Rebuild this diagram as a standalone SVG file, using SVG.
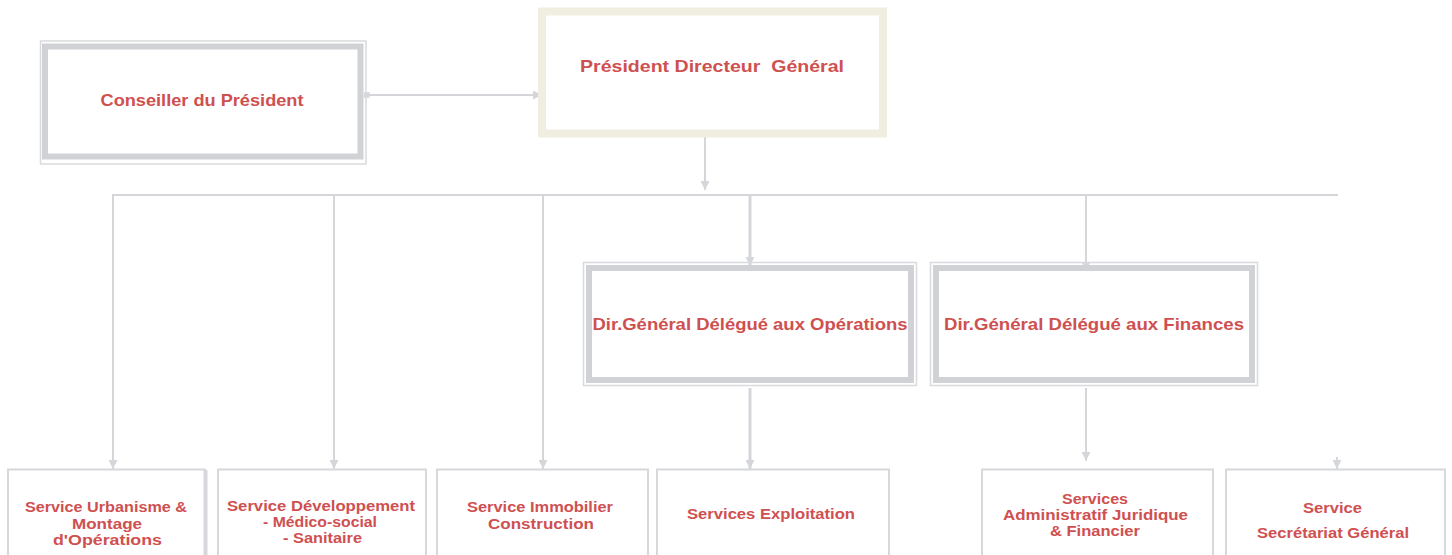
<svg xmlns="http://www.w3.org/2000/svg" width="1452" height="555" viewBox="0 0 1452 555">
<style>
.t{font-family:"Liberation Sans",Arial,sans-serif;font-weight:bold;fill:#cf5050;text-anchor:middle}
.t15{font-size:16.5px}
.t13{font-size:14.5px}
.thin{fill:none;stroke:#d8dadd;stroke-width:1.5}
.thick{fill:none;stroke:#d0d2d5;stroke-width:6}
.beige{fill:none;stroke:#f0ede1;stroke-width:8}
.sub{fill:#fff;stroke:#d6d8db;stroke-width:2}
.c{fill:none;stroke:#d4d6d9;stroke-width:2}
</style>
<defs>
<marker id="ah" viewBox="0 0 10 10" refX="10" refY="5" markerWidth="9" markerHeight="9" markerUnits="userSpaceOnUse" orient="auto">
<path d="M0,0 L10,5 L0,10 z" fill="#d4d6d9"/>
</marker>
<marker id="as" viewBox="0 0 10 10" refX="0" refY="5" markerWidth="7" markerHeight="7" markerUnits="userSpaceOnUse" orient="auto">
<rect x="0" y="1" width="8" height="8" fill="#d4d6d9"/>
</marker>
</defs>
<rect width="1452" height="555" fill="#fff"/>
<g id="connectors">
<line class="c" x1="364" y1="95" x2="542" y2="95" marker-start="url(#as)" marker-end="url(#ah)"/>
<line class="c" x1="705" y1="137" x2="705" y2="190" marker-end="url(#ah)"/>
<line class="c" x1="112" y1="195" x2="1338" y2="195"/>
<line class="c" x1="113" y1="195" x2="113" y2="469" marker-end="url(#ah)"/>
<line class="c" x1="334" y1="195" x2="334" y2="469" marker-end="url(#ah)"/>
<line class="c" x1="543" y1="195" x2="543" y2="469" marker-end="url(#ah)"/>
<line class="c" style="stroke-width:3" x1="750" y1="195" x2="750" y2="266" marker-end="url(#ah)"/>
<line class="c" x1="1086" y1="195" x2="1086" y2="271" marker-end="url(#ah)"/>
<line class="c" style="stroke-width:3" x1="750" y1="388" x2="750" y2="469" marker-end="url(#ah)"/>
<line class="c" x1="1086" y1="388" x2="1086" y2="461" marker-end="url(#ah)"/>
<line class="c" x1="1337" y1="457" x2="1337" y2="469" marker-end="url(#ah)"/>
</g>
<g id="conseiller">
<rect class="thin" x="40.5" y="41" width="325.5" height="123"/>
<rect class="thick" x="45" y="46.5" width="315.5" height="110"/>
<text class="t t15" x="202" y="106" textLength="203" lengthAdjust="spacingAndGlyphs">Conseiller du Président</text>
</g>
<g id="pdg">
<rect class="beige" x="542" y="11.5" width="341" height="122"/>
<text class="t t15" x="712" y="72" textLength="264" lengthAdjust="spacingAndGlyphs" xml:space="preserve">Président Directeur  Général</text>
</g>
<g id="dir-ops">
<rect class="thin" x="583.5" y="262.5" width="333" height="123"/>
<rect class="thick" x="589" y="268" width="322" height="112"/>
<text class="t t15" x="750" y="330" textLength="315" lengthAdjust="spacingAndGlyphs">Dir.Général Délégué aux Opérations</text>
</g>
<g id="dir-fin">
<rect class="thin" x="930.5" y="262.5" width="327" height="123"/>
<rect class="thick" x="936" y="268" width="316" height="112"/>
<text class="t t15" x="1094" y="330" textLength="300" lengthAdjust="spacingAndGlyphs">Dir.Général Délégué aux Finances</text>
</g>
<g id="urbanisme">
<rect class="sub" x="8" y="469.5" width="197" height="100"/>
<line x1="205.5" y1="470" x2="205.5" y2="555" stroke="#d6d8db" stroke-width="4"/>
<text class="t t13" x="106" y="512" textLength="162" lengthAdjust="spacingAndGlyphs">Service Urbanisme &amp;</text>
<text class="t t13" x="107" y="529" textLength="70" lengthAdjust="spacingAndGlyphs">Montage</text>
<text class="t t13" x="107.5" y="545" textLength="109" lengthAdjust="spacingAndGlyphs">d'Opérations</text>
</g>
<g id="developpement">
<rect class="sub" x="218" y="469.5" width="208" height="100"/>
<text class="t t13" x="321" y="511" textLength="188" lengthAdjust="spacingAndGlyphs">Service Développement</text>
<text class="t t13" x="320" y="527" textLength="114" lengthAdjust="spacingAndGlyphs">- Médico-social</text>
<text class="t t13" x="322.5" y="543" textLength="79" lengthAdjust="spacingAndGlyphs">- Sanitaire</text>
</g>
<g id="immobilier">
<rect class="sub" x="437" y="469.5" width="211" height="100"/>
<text class="t t13" x="540" y="512" textLength="146" lengthAdjust="spacingAndGlyphs">Service Immobilier</text>
<text class="t t13" x="541" y="529" textLength="106" lengthAdjust="spacingAndGlyphs">Construction</text>
</g>
<g id="exploitation">
<rect class="sub" x="657" y="469.5" width="232" height="100"/>
<text class="t t13" x="771" y="519" textLength="168" lengthAdjust="spacingAndGlyphs">Services Exploitation</text>
</g>
<g id="administratif">
<rect class="sub" x="982" y="469.5" width="231" height="100"/>
<text class="t t13" x="1095" y="504" textLength="66" lengthAdjust="spacingAndGlyphs">Services</text>
<text class="t t13" x="1095.5" y="520" textLength="185" lengthAdjust="spacingAndGlyphs">Administratif Juridique</text>
<text class="t t13" x="1095" y="536" textLength="90" lengthAdjust="spacingAndGlyphs">&amp; Financier</text>
</g>
<g id="secretariat">
<rect class="sub" x="1226" y="469.5" width="219" height="100"/>
<text class="t t13" x="1332.5" y="513" textLength="59" lengthAdjust="spacingAndGlyphs">Service</text>
<text class="t t13" x="1333" y="538" textLength="152" lengthAdjust="spacingAndGlyphs">Secrétariat Général</text>
</g>
</svg>
